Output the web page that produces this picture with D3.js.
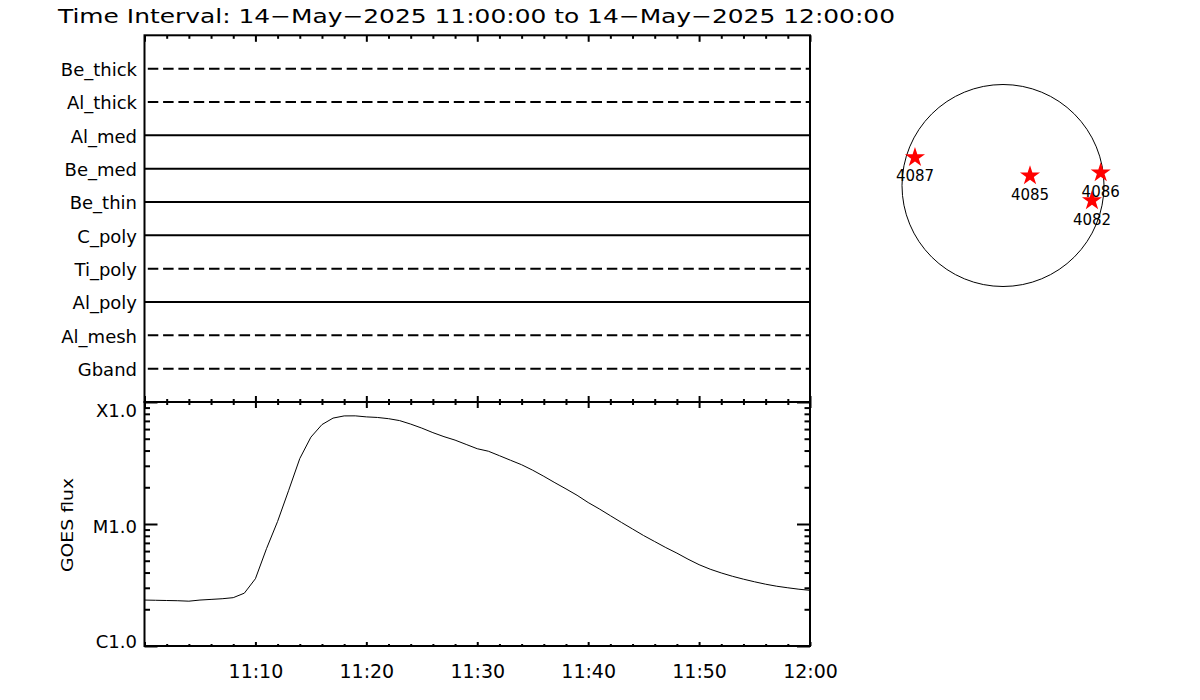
<!DOCTYPE html>
<html>
<head>
<meta charset="utf-8">
<script src="https://cdn.jsdelivr.net/npm/d3@7"></script>
<style>
  html, body { margin: 0; padding: 0; background: #fff; }
  svg { display: block; font-family: "DejaVu Sans", sans-serif; }
</style>
</head>
<body>
<svg id="chart" width="1200" height="700"></svg>
<script>
// ---------------- data ----------------
const titleText = "Time Interval: 14\u2212May\u22122025 11:00:00 to 14\u2212May\u22122025 12:00:00";

const filterNames  = ["Be_thick", "Al_thick", "Al_med", "Be_med", "Be_thin", "C_poly", "Ti_poly", "Al_poly", "Al_mesh", "Gband"];
const filterStyles = ["dashed", "dashed", "solid", "solid", "solid", "solid", "dashed", "solid", "dashed", "dashed"];
const filterStart  = ["11:00", "11:00", "11:00", "11:00", "11:00", "11:00", "11:00", "11:00", "11:00", "11:00"];
const filterEnd    = ["12:00", "12:00", "12:00", "12:00", "12:00", "12:00", "12:00", "12:00", "12:00", "12:00"];

const goesTimes = ["11:00","11:01","11:02","11:03","11:04","11:05","11:06","11:07","11:08","11:09",
                   "11:10","11:11","11:12","11:13","11:14","11:15","11:16","11:17","11:18","11:19",
                   "11:20","11:21","11:22","11:23","11:24","11:25","11:26","11:27","11:28","11:29",
                   "11:30","11:31","11:32","11:33","11:34","11:35","11:36","11:37","11:38","11:39",
                   "11:40","11:41","11:42","11:43","11:44","11:45","11:46","11:47","11:48","11:49",
                   "11:50","11:51","11:52","11:53","11:54","11:55","11:56","11:57","11:58","11:59","12:00"];
const goesFlux = [2.38e-6, 2.37e-6, 2.36e-6, 2.35e-6, 2.33e-6, 2.38e-6, 2.41e-6, 2.44e-6, 2.49e-6, 2.71e-6,
                  3.56e-6, 6.28e-6, 1.05e-5, 1.89e-5, 3.44e-5, 5.15e-5, 6.53e-5, 7.38e-5, 7.69e-5, 7.70e-5,
                  7.55e-5, 7.47e-5, 7.30e-5, 7.04e-5, 6.59e-5, 6.11e-5, 5.61e-5, 5.20e-5, 4.87e-5, 4.49e-5,
                  4.14e-5, 3.95e-5, 3.63e-5, 3.33e-5, 3.06e-5, 2.76e-5, 2.46e-5, 2.18e-5, 1.94e-5, 1.72e-5,
                  1.50e-5, 1.33e-5, 1.17e-5, 1.03e-5, 9.10e-6, 8.04e-6, 7.18e-6, 6.41e-6, 5.77e-6, 5.15e-6,
                  4.64e-6, 4.26e-6, 3.97e-6, 3.73e-6, 3.53e-6, 3.36e-6, 3.21e-6, 3.09e-6, 3.00e-6, 2.92e-6, 2.86e-6];

const timeTickLabels = ["11:10", "11:20", "11:30", "11:40", "11:50", "12:00"];
const fluxTickValues = [1e-6, 1e-5, 1e-4];
const fluxTickLabels = ["C1.0", "M1.0", "X1.0"];
const yAxisTitle = "GOES flux";

const regionIds = ["4087", "4085", "4086", "4082"];
const regionX   = [-828, 254, 919, 837];   // arcsec
const regionY   = [265, 92, 120, -143];    // arcsec
const solarRadius = 950;                   // arcsec

// ---------------- layout ----------------
const svg = d3.select("#chart");
const parseT = d3.timeParse("%H:%M");
const L = 144.5, R = 810, T1 = 35.3, B1 = 402, B2 = 646;

const x = d3.scaleTime().domain([parseT("11:00"), parseT("12:00")]).range([L, R]);
const yCat = d3.scalePoint().domain(filterNames).range([T1, B1]).padding(1);
const y = d3.scaleLog().domain([1e-6, 1e-4]).range([B2, B1]);

// Title
svg.append("text")
  .attr("x", 58).attr("y", 23)
  .attr("font-size", 20)
  .attr("textLength", 837).attr("lengthAdjust", "spacingAndGlyphs")
  .text(titleText);

// ---------- tick helpers ----------
const minorTimes = d3.timeMinute.every(2).range(parseT("11:00"), d3.timeMinute.offset(parseT("12:00"), 1))
  .filter(d => d.getMinutes() % 10 !== 0);
const majorTimes = d3.timeMinute.every(10).range(parseT("11:00"), d3.timeMinute.offset(parseT("12:00"), 1));

function timeTicks(axisFn, yPos, minorLen, majorLen) {
  const gMin = svg.append("g").attr("transform", `translate(0,${yPos})`)
    .call(axisFn(x).tickValues(minorTimes).tickSize(minorLen).tickFormat(""));
  const gMaj = svg.append("g").attr("transform", `translate(0,${yPos})`)
    .call(axisFn(x).tickValues(majorTimes).tickSize(majorLen).tickFormat(""));
  [gMin, gMaj].forEach(g => {
    g.select(".domain").remove();
    g.selectAll(".tick line").attr("stroke", "#000").attr("stroke-width", 2);
  });
}
timeTicks(d3.axisBottom, T1, 3.5, 6.5);
timeTicks(d3.axisTop, B1, 3, 6);
timeTicks(d3.axisBottom, B1, 3, 6);
timeTicks(d3.axisTop, B2, 2, 4);

// time labels
const gTimeLab = svg.append("g").attr("transform", `translate(0,${B2})`)
  .call(d3.axisBottom(x).tickValues(timeTickLabels.map(parseT)).tickSize(0).tickPadding(19)
    .tickFormat(d3.timeFormat("%H:%M")));
gTimeLab.select(".domain").remove();
gTimeLab.selectAll("text").attr("font-size", 19).attr("font-family", "DejaVu Sans, sans-serif").attr("fill", "#000");

// log ticks
const minorFlux = [];
[1e-6, 1e-5].forEach(dec => { for (let k = 2; k <= 9; k++) minorFlux.push(dec * k); });
function fluxTicks(axisFn, xPos, minorLen, majorLen) {
  const gMin = svg.append("g").attr("transform", `translate(${xPos},0)`)
    .call(axisFn(y).tickValues(minorFlux).tickSize(minorLen).tickFormat(""));
  const gMaj = svg.append("g").attr("transform", `translate(${xPos},0)`)
    .call(axisFn(y).tickValues(fluxTickValues).tickSize(majorLen).tickFormat(""));
  [gMin, gMaj].forEach(g => {
    g.select(".domain").remove();
    g.selectAll(".tick line").attr("stroke", "#000").attr("stroke-width", 2);
  });
}
fluxTicks(d3.axisRight, L, 5.5, 13);
fluxTicks(d3.axisLeft, R, 5.5, 13);

// flux labels
svg.append("g").selectAll("text").data(fluxTickValues).join("text")
  .attr("x", 137)
  .attr("y", d => Math.min(Math.max(y(d) + 2, B1 + 8), B2 - 5))
  .attr("dominant-baseline", "central")
  .attr("text-anchor", "end")
  .attr("font-size", 18)
  .text((d, i) => fluxTickLabels[i]);

// y axis title
svg.append("text")
  .attr("transform", `translate(73,${(B1 + B2) / 2 + 1}) rotate(-90)`)
  .attr("text-anchor", "middle")
  .attr("font-size", 16)
  .attr("textLength", 94).attr("lengthAdjust", "spacingAndGlyphs")
  .text(yAxisTitle);

// ---------- upper panel: filter lines ----------
const filters = filterNames.map((n, i) => ({ name: n, style: filterStyles[i], s: parseT(filterStart[i]), e: parseT(filterEnd[i]) }));
svg.append("g").selectAll("line").data(filters).join("line")
  .attr("x1", d => x(d.s)).attr("x2", d => x(d.e))
  .attr("y1", d => yCat(d.name)).attr("y2", d => yCat(d.name))
  .attr("stroke", "#000").attr("stroke-width", 2)
  .attr("stroke-dasharray", d => d.style === "dashed" ? "10.5,4.8" : null)
  .attr("stroke-dashoffset", d => d.style === "dashed" ? 12 : null);

svg.append("g").selectAll("text").data(filters).join("text")
  .attr("x", 137).attr("y", d => yCat(d.name) + 1)
  .attr("dominant-baseline", "central")
  .attr("text-anchor", "end")
  .attr("font-size", 18)
  .text(d => d.name);

// ---------- lower panel: GOES curve ----------
const goes = goesTimes.map((t, i) => ({ t: parseT(t), f: goesFlux[i] }));
svg.append("path").datum(goes)
  .attr("fill", "none").attr("stroke", "#000").attr("stroke-width", 1)
  .attr("d", d3.line().x(d => x(d.t)).y(d => y(d.f)));

// ---------- frames ----------
svg.append("rect").attr("x", L).attr("y", T1).attr("width", R - L).attr("height", B1 - T1)
  .attr("fill", "none").attr("stroke", "#000").attr("stroke-width", 2);
svg.append("rect").attr("x", L).attr("y", B1).attr("width", R - L).attr("height", B2 - B1)
  .attr("fill", "none").attr("stroke", "#000").attr("stroke-width", 2);

// ---------- solar disk ----------
const sx = d3.scaleLinear().domain([-solarRadius, solarRadius]).range([902, 1104]);
const sy = d3.scaleLinear().domain([-solarRadius, solarRadius]).range([286, 85]);
svg.append("circle")
  .attr("cx", sx(0)).attr("cy", sy(0)).attr("r", sx(solarRadius) - sx(0))
  .attr("fill", "none").attr("stroke", "#000").attr("stroke-width", 1);

const regions = regionIds.map((id, i) => ({ id, x: regionX[i], y: regionY[i] }));
const star = d3.symbol().type(d3.symbolStar).size(125);
svg.append("g").selectAll("path").data(regions).join("path")
  .attr("transform", d => `translate(${sx(d.x)},${sy(d.y)})`)
  .attr("d", star)
  .attr("fill", "#ff0000");
svg.append("g").selectAll("text").data(regions).join("text")
  .attr("x", d => sx(d.x)).attr("y", d => sy(d.y) + 19)
  .attr("text-anchor", "middle").attr("dominant-baseline", "central")
  .attr("font-size", 15)
  .text(d => d.id);
</script>
</body>
</html>
